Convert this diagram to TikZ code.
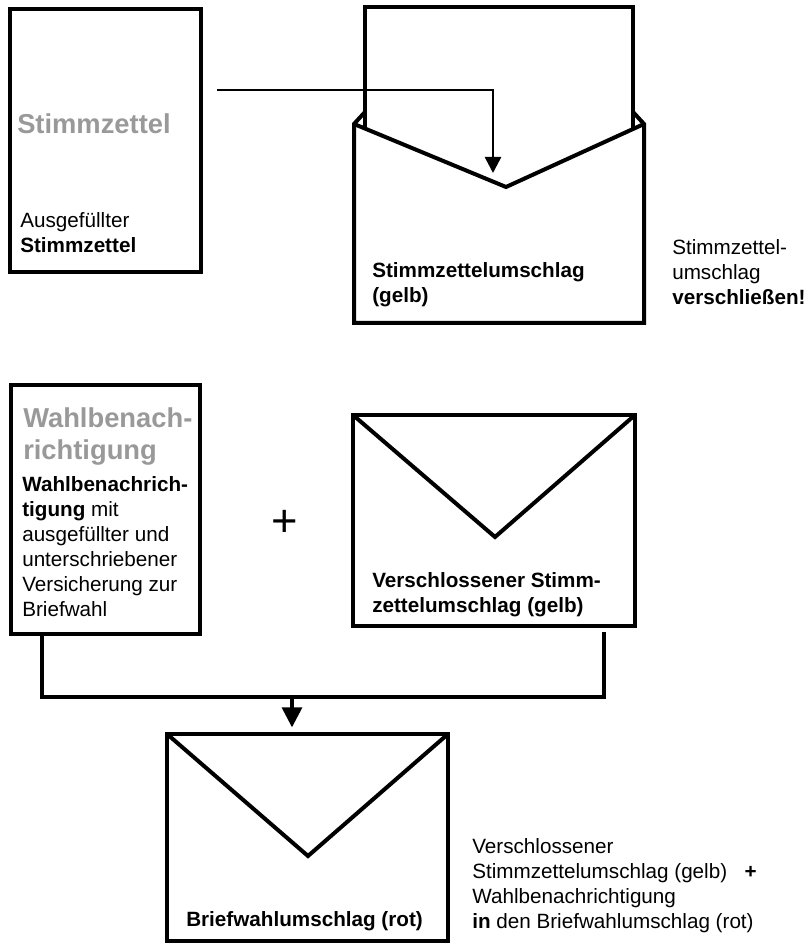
\documentclass[tikz,border=0pt]{standalone}
\usepackage{fontspec}
\setmainfont{Liberation Sans}
\usepackage{tikz}
\usetikzlibrary{calc}
\usetikzlibrary{arrows.meta}
\definecolor{titlegray}{RGB}{153,153,153}
\tikzset{sheet/.style={draw,line width=3pt,inner sep=0pt,outer sep=0pt},
    bodytext/.style={inner sep=0pt,align=left,anchor=base west,font=\fontsize{15.5}{18.75}\selectfont},
    titletext/.style={bodytext,text=titlegray,font=\fontsize{20.5}{24}\selectfont\bfseries},
    link/.style={line width=2.5pt},
    feed/.style={line width=1.9pt,-{Triangle[length=12pt,width=12pt]}}}

\begin{document}
\begin{tikzpicture}[x=0.75pt,y=0.75pt,yscale=-1,xscale=1]
\useasboundingbox (0,0) rectangle (810,944);
% multi-line text nodes sit on the baseline of their last line

%Shape: Rectangle [Stimmzettel]
\node (zettel) [sheet,minimum width=143.25pt,minimum height=197.25pt] at (105,140.5) {};
%Shape: letter sticking out of the open envelope
\draw [line width=2.8pt] (365,128) -- (365,7) -- (633,7) -- (633,128) ;
%Shape: open envelope
\draw [line width=3pt] (365,112) -- (354,124) -- (354,323) -- (644,323) -- (644,124) -- (633,112) ;
\draw [line width=3pt] (354,124) -- (506,187) -- (644,124) ;
\coordinate (slot) at (493,173);
%Straight Lines [arrow into envelope]
\draw [feed] (217,90) -| (slot) ;

% Text Node
\node (zetteltitle) [titletext] at (17,134) {Stimmzettel};
% Text Node
\node (zettelnote) [bodytext] at (20,253) {Ausgefüllter\\\textbf{Stimmzettel}};
% Text Node
\node (umschlaglabel) [bodytext] at (372,303) {\textbf{Stimmzettelumschlag}\\\textbf{(gelb)}};
% Text Node
\node (closenote) [bodytext] at (672,305) {Stimmzettel-\\umschlag\\\textbf{verschließen!}};

%Shape: Rectangle [Wahlbenachrichtigung]
\node (wahl) [sheet,minimum width=141.75pt,minimum height=186.75pt] at (105,509.5) {};
%Shape: closed envelope (gelb)
\node (verschl) [sheet,minimum width=211.5pt,minimum height=158.25pt] at (494,520.5) {};
\draw [line width=3pt] (verschl.north west) -- ($(verschl.north)+(1,122)$) -- (verschl.north east) ;

% Text Node
\node (wahltitle) [titletext] at (23,459) {Wahlbenach-\\richtigung};
% Text Node
\node (wahlnote) [bodytext] at (22,616) {\textbf{Wahlbenachrich-}\\\textbf{tigung} mit\\ausgefüllter und\\unterschriebener\\Versicherung zur\\Briefwahl};
% Text Node
\node (plus) [inner sep=0pt,font=\fontsize{34}{40}\selectfont] at (285,523) {+};
% Text Node
\node (verschllabel) [bodytext] at (372,612) {\textbf{Verschlossener Stimm-}\\\textbf{zettelumschlag (gelb)}};

%Shape: Briefwahlumschlag (rot)
\node (brief) [sheet,minimum width=210.75pt,minimum height=155.25pt] at (307.5,837.5) {};
\draw [line width=3pt] (brief.north west) -- ($(brief.north)+(0.5,122)$) -- (brief.north east) ;

%Connectors
\coordinate (bus) at (292,697);
\draw [link] ($(wahl.south)+(-63,0)$) |- (bus) -| ($(verschl.south)+(110,6)$) ;
\draw [link,-{Triangle[length=15pt,width=15pt]},shorten >=5pt] (bus) -- (bus |- brief.north) ;

% Text Node
\node (brieflabel) [bodytext] at (186,926) {\textbf{Briefwahlumschlag (rot)}};
% Text Node
\node (sendnote) [bodytext] at (472,928) {Verschlossener\\Stimmzettelumschlag (gelb)\hspace{13pt}\textbf{+}\\Wahlbenachrichtigung\\\textbf{in} den Briefwahlumschlag (rot)};

\end{tikzpicture}
\end{document}
